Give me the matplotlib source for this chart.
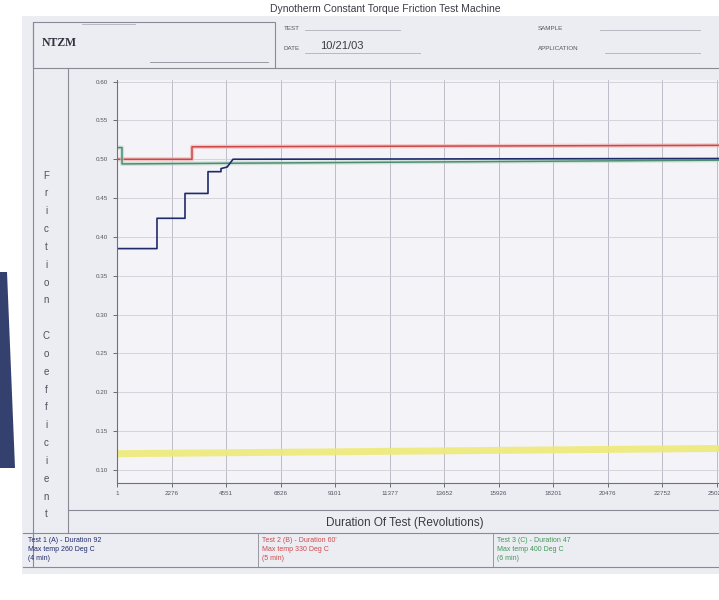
import numpy as np
import matplotlib.pyplot as plt
from matplotlib.patches import Rectangle, Polygon

plt.rcParams.update({
    "font.family": ["Liberation Sans", "DejaVu Sans"],
    "font.size": 6,
})

# ---- data ----
x_ticks = [1, 2276, 4551, 6826, 9101, 11377, 13652, 15926, 18201, 20476, 22752, 25027]
y_ticks = [0.10, 0.15, 0.20, 0.25, 0.30, 0.35, 0.40, 0.45, 0.50, 0.55, 0.60]

# Test 1 (A) - navy, stepped run-in
test1_rev = [1, 1670, 1670, 2839, 2839, 3799, 3799, 4342, 4342, 4600, 4843, 26000]
test1_cof = [0.385, 0.385, 0.424, 0.424, 0.456, 0.456, 0.484, 0.484, 0.488, 0.490, 0.500, 0.501]

# Test 2 (B) - red
test2_rev = [1, 3131, 3131, 26000]
test2_cof = [0.500, 0.500, 0.516, 0.518]

# Test 3 (C) - green
test3_rev = [1, 210, 210, 26000]
test3_cof = [0.515, 0.515, 0.494, 0.499]

# highlighter stripe on the scan
stripe_rev = [1, 26000]
stripe_cof = [0.121, 0.128]

legend_a = ["Test 1 (A) - Duration 92", "Max temp 260 Deg C", "(4 min)"]
legend_b = ["Test 2 (B) - Duration 60'", "Max temp 330 Deg C", "(5 min)"]
legend_c = ["Test 3 (C) - Duration 47", "Max temp 400 Deg C", "(6 min)"]

W, H = 719, 600
fig = plt.figure(figsize=(W / 100, H / 100), dpi=100)
fig.patch.set_facecolor("white")

# background "form" drawn in pixel coordinates
bg = fig.add_axes([0, 0, 1, 1], zorder=0)
bg.set_xlim(0, W)
bg.set_ylim(H, 0)
bg.axis("off")

line_c = "#8a8a96"
bg.add_patch(Rectangle((22, 16), 700, 558, fc="#ececf3", ec="none"))
bg.add_patch(Polygon([(0, 272), (7, 272), (15, 468), (0, 468)], closed=True,
                     fc="#34406e", ec="none"))

bg.text(385, 9, "Dynotherm Constant Torque Friction Test Machine",
        ha="center", va="center", fontsize=7.5, color="#3c3c46")
# NTZM box
bg.add_patch(Rectangle((33, 22), 242, 46, fc="none", ec=line_c, lw=0.8))
bg.plot([82, 135], [24, 24], color="#b0b0ba", lw=0.6)
bg.plot([150, 268], [62, 62], color=line_c, lw=0.6)
bg.text(42, 43, "NTZM", ha="left", va="center", fontsize=8.5,
        fontfamily=["Liberation Serif", "DejaVu Serif"], color="#333340",
        fontweight="bold")
bg.text(284, 28, "TEST", fontsize=4.5, color="#555560", va="center")
bg.plot([305, 400], [30, 30], color="#b0b0ba", lw=0.6)
bg.text(284, 49, "DATE", fontsize=4.5, color="#555560", va="center")
bg.text(320, 46, "10/21/03", fontsize=8, color="#3c3c46", va="center")
bg.plot([305, 420], [53, 53], color="#b0b0ba", lw=0.6)
bg.text(538, 28, "SAMPLE", fontsize=4.5, color="#555560", va="center")
bg.plot([600, 700], [30, 30], color="#b0b0ba", lw=0.6)
bg.text(538, 49, "APPLICATION", fontsize=4.5, color="#555560", va="center")
bg.plot([605, 700], [53, 53], color="#b0b0ba", lw=0.6)
bg.plot([275, 719], [68, 68], color=line_c, lw=0.8)

# frame lines
bg.plot([33, 33], [22, 567], color=line_c, lw=0.8)
bg.plot([68, 68], [68, 533], color=line_c, lw=0.8)
bg.plot([68, 719], [510, 510], color=line_c, lw=0.8)
bg.plot([23, 719], [533, 533], color=line_c, lw=0.8)
bg.plot([23, 719], [567, 567], color=line_c, lw=0.8)
bg.plot([258, 258], [533, 567], color=line_c, lw=0.6)
bg.plot([493, 493], [533, 567], color=line_c, lw=0.6)

# vertical y label
bg.text(46, 345, "\n".join("Friction Coefficient"), ha="center", va="center",
        fontsize=7, linespacing=1.98, color="#505060")
bg.text(405, 523, "Duration Of Test (Revolutions)", ha="center", va="center",
        fontsize=8.5, color="#3a3a44")

for x0, lines, col in [(28, legend_a, "#1f2a6b"), (262, legend_b, "#d04a4a"),
                       (497, legend_c, "#3f9a55")]:
    for i, s in enumerate(lines):
        bg.text(x0, 541 + i * 8.5, s, fontsize=5, color=col, va="center")

# ---- the plot itself ----
ax = fig.add_axes([117 / W, (H - 483) / H, (740 - 117) / W, (483 - 80) / H], zorder=1)
ax.set_facecolor("#f3f3f8")
ax.set_xlim(1, 26003)
ax.set_ylim(0.0833, 0.602)

ax.set_xticks(x_ticks)
ax.set_xticklabels([str(v) for v in x_ticks])
ax.set_yticks(y_ticks)
ax.set_yticklabels(["%.2f" % v for v in y_ticks])
ax.tick_params(axis="both", labelsize=4.5, colors="#55555f", length=3, width=0.6)
ax.tick_params(axis="x", pad=3)

ax.grid(True, axis="x", color="#b4b4c0", lw=0.6)
ax.grid(True, axis="y", color="#cfcfd8", lw=0.6)
for side in ["top", "right"]:
    ax.spines[side].set_visible(False)
for side in ["left", "bottom"]:
    ax.spines[side].set_color("#70707c")
    ax.spines[side].set_linewidth(0.8)

ax.plot(stripe_rev, stripe_cof, color="#eeea78", lw=5, alpha=0.9, solid_capstyle="butt")
ax.plot(test2_rev, test2_cof, color="#f3b6b6", lw=3.0, alpha=0.7)
ax.plot(test2_rev, test2_cof, color="#cc4848", lw=1.1)
ax.plot(test3_rev, test3_cof, color="#b7d8c4", lw=3.0, alpha=0.6)
ax.plot(test3_rev, test3_cof, color="#4e8c72", lw=1.1)
ax.plot(test1_rev, test1_cof, color="#1f2a6b", lw=1.2)

fig.savefig("out.png", dpi=100, facecolor=fig.get_facecolor())
